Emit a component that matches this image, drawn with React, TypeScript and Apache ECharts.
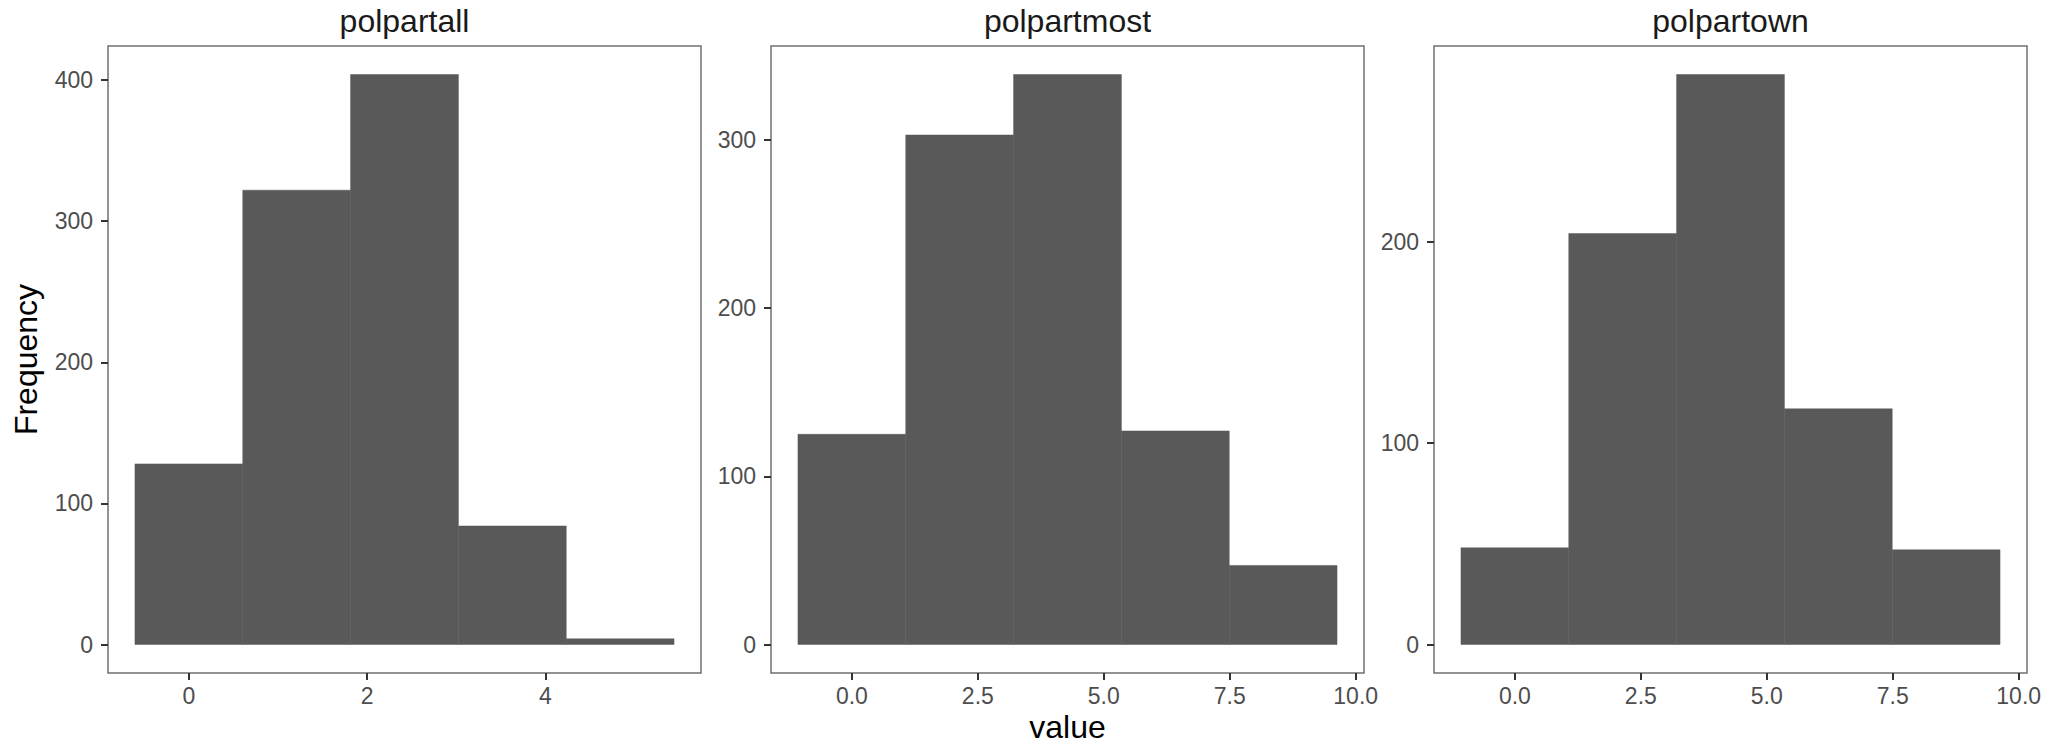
import React, { useEffect, useRef } from "react";
import * as echarts from "echarts";

// ---- data ----
const panelTitles = ["polpartall", "polpartmost", "polpartown"];

const allEdges = [-0.605, 0.605, 1.815, 3.025, 4.235, 5.445];
const allCounts = [128, 322, 404, 84, 4];
const allXTicks = [0, 2, 4];
const allYTicks = [0, 100, 200, 300, 400];

const mostEdges = [-1.07, 1.07, 3.21, 5.35, 7.49, 9.63];
const mostCounts = [125, 303, 339, 127, 47];
const mostXTicks = [0, 2.5, 5, 7.5, 10];
const mostYTicks = [0, 100, 200, 300];

const ownEdges = [-1.07, 1.07, 3.21, 5.35, 7.49, 9.63];
const ownCounts = [48, 204, 283, 117, 47];
const ownXTicks = [0, 2.5, 5, 7.5, 10];
const ownYTicks = [0, 100, 200];

const xAxisTitle = "value";
const yAxisTitle = "Frequency";

const panels = [
  { edges: allEdges, counts: allCounts, xTicks: allXTicks, yTicks: allYTicks, dec: 0 },
  { edges: mostEdges, counts: mostCounts, xTicks: mostXTicks, yTicks: mostYTicks, dec: 1 },
  { edges: ownEdges, counts: ownCounts, xTicks: ownXTicks, yTicks: ownYTicks, dec: 1 },
];

const FONT = "'Liberation Sans', Arial, Helvetica, sans-serif";
const gridLefts = [108, 771, 1434];
const GRID_TOP = 46;
const GRID_W = 593;
const GRID_H = 627;

export default function App() {
  const ref = useRef<HTMLDivElement>(null);

  useEffect(() => {
    document.body.style.margin = "0";
    if (!ref.current) return;
    const chart = echarts.init(ref.current, undefined, { renderer: "svg" });

    const grids: any[] = [];
    const xAxes: any[] = [];
    const yAxes: any[] = [];
    const series: any[] = [];
    const graphics: any[] = [];

    panels.forEach((p, i) => {
      const lo = p.edges[0];
      const hi = p.edges[p.edges.length - 1];
      const xpad = (hi - lo) * 0.05;
      const ymax = Math.max(...p.counts);
      const ypad = ymax * 0.05;

      grids.push({
        left: gridLefts[i],
        top: GRID_TOP,
        width: GRID_W,
        height: GRID_H,
        show: true,
        borderColor: "#707070",
        borderWidth: 1.5,
        backgroundColor: "#ffffff",
      });

      xAxes.push({
        type: "value",
        gridIndex: i,
        min: lo - xpad,
        max: hi + xpad,
        splitLine: { show: false },
        axisLine: { show: false, onZero: false },
        axisTick: {
          show: true,
          length: 7,
          customValues: p.xTicks,
          lineStyle: { color: "#333333", width: 2 },
        },
        axisLabel: {
          customValues: p.xTicks,
          formatter: (v: number) => v.toFixed(p.dec),
          color: "#4d4d4d",
          fontSize: 23,
          fontFamily: FONT,
          margin: 11,
        },
      });

      yAxes.push({
        type: "value",
        gridIndex: i,
        min: -ypad,
        max: ymax + ypad,
        splitLine: { show: false },
        axisLine: { show: false, onZero: false },
        axisTick: {
          show: true,
          length: 7,
          customValues: p.yTicks,
          lineStyle: { color: "#333333", width: 2 },
        },
        axisLabel: {
          customValues: p.yTicks,
          formatter: (v: number) => String(v),
          color: "#4d4d4d",
          fontSize: 23,
          fontFamily: FONT,
          margin: 15,
        },
      });

      const data = p.counts.map((c, k) => [p.edges[k], p.edges[k + 1], c]);
      series.push({
        type: "custom",
        xAxisIndex: i,
        yAxisIndex: i,
        data,
        encode: { x: [0, 1], y: 2 },
        renderItem: (params: any, api: any) => {
          const x0 = api.value(0);
          const x1 = api.value(1);
          const c = api.value(2);
          const p0 = api.coord([x0, c]);
          const p1 = api.coord([x1, 0]);
          return {
            type: "rect",
            shape: { x: p0[0], y: p0[1], width: p1[0] - p0[0], height: p1[1] - p0[1] },
            style: { fill: "#595959", stroke: "#595959", lineWidth: 0.5 },
          };
        },
      });

      graphics.push({
        type: "text",
        x: gridLefts[i] + GRID_W / 2,
        y: 21,
        style: {
          text: panelTitles[i],
          fill: "#1a1a1a",
          font: `32px ${FONT}`,
          align: "center",
          verticalAlign: "middle",
        },
      });
    });

    graphics.push({
      type: "text",
      x: gridLefts[1] + GRID_W / 2,
      y: 727,
      style: {
        text: xAxisTitle,
        fill: "#000000",
        font: `32px ${FONT}`,
        align: "center",
        verticalAlign: "middle",
      },
    });
    graphics.push({
      type: "text",
      x: 26,
      y: GRID_TOP + GRID_H / 2,
      rotation: Math.PI / 2,
      style: {
        text: yAxisTitle,
        fill: "#000000",
        font: `32px ${FONT}`,
        align: "center",
        verticalAlign: "middle",
      },
    });

    chart.setOption({
      animation: false,
      backgroundColor: "#ffffff",
      grid: grids,
      xAxis: xAxes,
      yAxis: yAxes,
      series,
      graphic: graphics,
    });

    return () => chart.dispose();
  }, []);

  return <div ref={ref} style={{ width: 2067, height: 745 }} />;
}
